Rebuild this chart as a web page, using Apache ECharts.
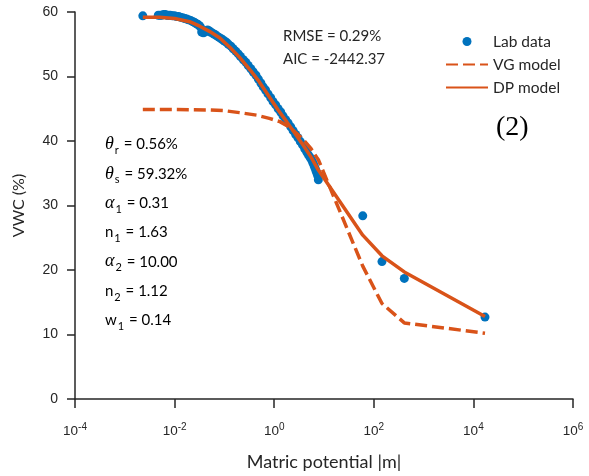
<!DOCTYPE html>
<html>
<head>
<meta charset="utf-8">
<script src="https://cdn.jsdelivr.net/npm/echarts@6/dist/echarts.min.js"></script>
<style>
  html, body { margin: 0; padding: 0; background: #fff; }
  #chart { width: 589px; height: 476px; }
</style>
</head>
<body>
<div id="chart"></div>
<script>
// Measured water content versus matric potential
const labX = [0.0023, 0.0047, 0.0051, 0.0055, 0.006, 0.0065, 0.007, 0.0075, 0.0082, 0.009,
  0.01, 0.011, 0.012, 0.013, 0.0145, 0.016, 0.0175, 0.019, 0.021, 0.023,
  0.025, 0.027, 0.029, 0.031, 0.033, 0.035, 0.037, 0.039, 0.041, 0.043,
  0.046, 0.049, 0.052, 0.056, 0.06, 0.065, 0.07, 0.077, 0.085, 0.092,
  0.1, 0.11, 0.12, 0.135, 0.15, 0.17, 0.19, 0.21, 0.24, 0.27,
  0.3, 0.34, 0.38, 0.43, 0.48, 0.54, 0.6, 0.67, 0.75, 0.85,
  0.95, 1.07, 1.2, 1.35, 1.5, 1.7, 1.9, 2.15, 2.4, 2.7,
  3.0, 3.35, 3.7, 4.1, 4.5, 4.9, 5.3, 5.7, 6.0, 6.3,
  6.6, 6.9, 7.2, 7.5, 7.7, 60, 146, 410, 17100];
const labY = [59.4, 59.5, 59.5, 59.5, 59.6, 59.6, 59.5, 59.5, 59.5, 59.4,
  59.4, 59.3, 59.3, 59.2, 59.1, 59.0, 58.9, 58.8, 58.7, 58.5,
  58.4, 58.2, 58.1, 57.9, 57.7, 56.9, 56.8, 56.8, 57.0, 57.1,
  57.2, 57.1, 56.9, 56.8, 56.6, 56.5, 56.3, 56.1, 55.9, 55.7,
  55.5, 55.3, 55.0, 54.7, 54.3, 53.9, 53.5, 53.1, 52.6, 52.2,
  51.7, 51.2, 50.7, 50.2, 49.6, 49.0, 48.4, 47.9, 47.3, 46.7,
  46.1, 45.6, 45.0, 44.5, 43.9, 43.3, 42.8, 42.2, 41.6, 41.0,
  40.5, 39.9, 39.4, 38.8, 38.3, 37.8, 37.4, 37.0, 36.6, 36.2,
  35.8, 35.4, 35.0, 34.6, 34.0, 28.4, 21.3, 18.7, 12.7];

// Van Genuchten fit
const vgX = [0.0023, 0.01, 0.05, 0.1, 0.2, 0.45, 0.8, 1.3, 2.0, 3.0, 3.85, 5.5, 7.1, 7.7, 60, 146, 410, 17100];
const vgY = [44.9, 44.9, 44.8, 44.7, 44.4, 44.0, 43.5, 43.0, 42.2, 41.0, 40.2, 38.8, 37.5, 37.1, 20.6, 14.8, 11.8, 10.2];

// Dual-porosity fit
const dpX = [0.0023, 0.005, 0.01, 0.02, 0.032, 0.05, 0.08, 0.13, 0.2, 0.33, 0.5, 0.82, 1.2, 1.78, 2.6, 3.85, 5.5, 7.7, 60, 146, 410, 17100];
const dpY = [59.2, 59.2, 59.0, 58.5, 57.8, 57.0, 56.0, 54.5, 53.0, 51.0, 49.2, 46.7, 44.8, 43.0, 41.2, 39.3, 37.5, 35.5, 25.4, 22.2, 19.7, 12.8];

const fitStats = ['RMSE = 0.29%', 'AIC = -2442.37'];
const paramRows = [
  ['θ', 'r', '0.56%', true],
  ['θ', 's', '59.32%', true],
  ['α', '1', '0.31', true],
  ['n', '1', '1.63', false],
  ['α', '2', '10.00', true],
  ['n', '2', '1.12', false],
  ['w', '1', '0.14', false]
];

const ORANGE = '#D95319';
const BLUE = '#0072BD';
const INK = '#262626';
const SANS = 'Lato';

const pairs = (xs, ys) => xs.map((x, i) => [x, ys[i]]);

const graphics = [];
fitStats.forEach((t, i) => {
  graphics.push({
    type: 'text', left: 283, top: 29 + i * 23,
    style: { text: t, font: '15px ' + SANS, fill: INK }
  });
});
paramRows.forEach((r, i) => {
  const lead = r[3] ? '{g|' + r[0] + '}' : '{t|' + r[0] + '}';
  graphics.push({
    type: 'text', left: 105, top: 133 + i * 29.3,
    style: {
      text: lead + '{s|' + r[1] + '}{t| = ' + r[2] + '}',
      rich: {
        g: { fontFamily: 'Liberation Serif', fontStyle: 'italic', fontSize: 18, lineHeight: 20, color: INK },
        t: { fontFamily: SANS, fontSize: 15, lineHeight: 20, color: INK },
        s: { fontFamily: SANS, fontSize: 11, lineHeight: 13, padding: [12, 1, 0, 1], color: INK }
      }
    }
  });
});
graphics.push({
  type: 'text', left: 496, top: 114,
  style: { text: '(2)', font: '28px "Liberation Serif"', fill: '#000' }
});

const chart = echarts.init(document.getElementById('chart'), null, { renderer: 'canvas' });
chart.setOption({
  animation: false,
  backgroundColor: '#fff',
  grid: { left: 75, right: 16, top: 12, bottom: 75, containLabel: false },
  legend: {
    orient: 'vertical', left: 440, top: 27,
    itemWidth: 42, itemHeight: 9, itemGap: 4,
    textStyle: { fontFamily: SANS, fontSize: 15.5, color: INK, lineHeight: 19 },
    data: [
      { name: 'Lab data' },
      { name: 'VG model', itemStyle: { opacity: 0 } },
      { name: 'DP model', itemStyle: { opacity: 0 } }
    ]
  },
  xAxis: {
    type: 'log', logBase: 10, min: 1e-4, max: 1e6, interval: 2,
    name: 'Matric potential |m|', nameLocation: 'middle', nameGap: 54,
    nameTextStyle: { fontFamily: SANS, fontSize: 18, color: INK },
    axisLine: { lineStyle: { color: INK, width: 1.5 } },
    axisTick: { length: 9, inside: false, lineStyle: { color: INK, width: 1.5 } },
    minorTick: { show: false },
    splitLine: { show: false },
    axisLabel: {
      margin: 23, color: INK,
      formatter: v => '{b|10}{sup|' + Math.round(Math.log10(v)) + '}',
      rich: {
        b: { fontFamily: 'Liberation Sans', fontSize: 13.5, color: INK },
        sup: { fontFamily: 'Liberation Sans', fontSize: 10, padding: [0, 0, 9, 0], color: INK }
      }
    }
  },
  yAxis: {
    type: 'value', min: 0, max: 60, interval: 10,
    name: 'VWC (%)', nameLocation: 'middle', nameGap: 48, nameRotate: 90,
    nameTextStyle: { fontFamily: SANS, fontSize: 16, color: INK },
    axisLine: { show: true, lineStyle: { color: INK, width: 1.5 } },
    axisTick: { show: true, length: 8, inside: false, lineStyle: { color: INK, width: 1.5 } },
    splitLine: { show: false },
    axisLabel: { margin: 17, fontFamily: 'Liberation Sans', fontSize: 14, color: INK }
  },
  series: [
    {
      name: 'Lab data', type: 'scatter', data: pairs(labX, labY),
      symbol: 'circle', symbolSize: 9, itemStyle: { color: BLUE, opacity: 1 }, z: 2
    },
    {
      name: 'VG model', type: 'line', data: pairs(vgX, vgY),
      symbol: 'none', smooth: false,
      lineStyle: { color: ORANGE, width: 3.5, type: [12, 5] }, itemStyle: { color: ORANGE }, z: 3
    },
    {
      name: 'DP model', type: 'line', data: pairs(dpX, dpY),
      symbol: 'none', smooth: false,
      lineStyle: { color: ORANGE, width: 3.5 }, itemStyle: { color: ORANGE }, z: 4
    }
  ],
  graphic: graphics
});
</script>
</body>
</html>
